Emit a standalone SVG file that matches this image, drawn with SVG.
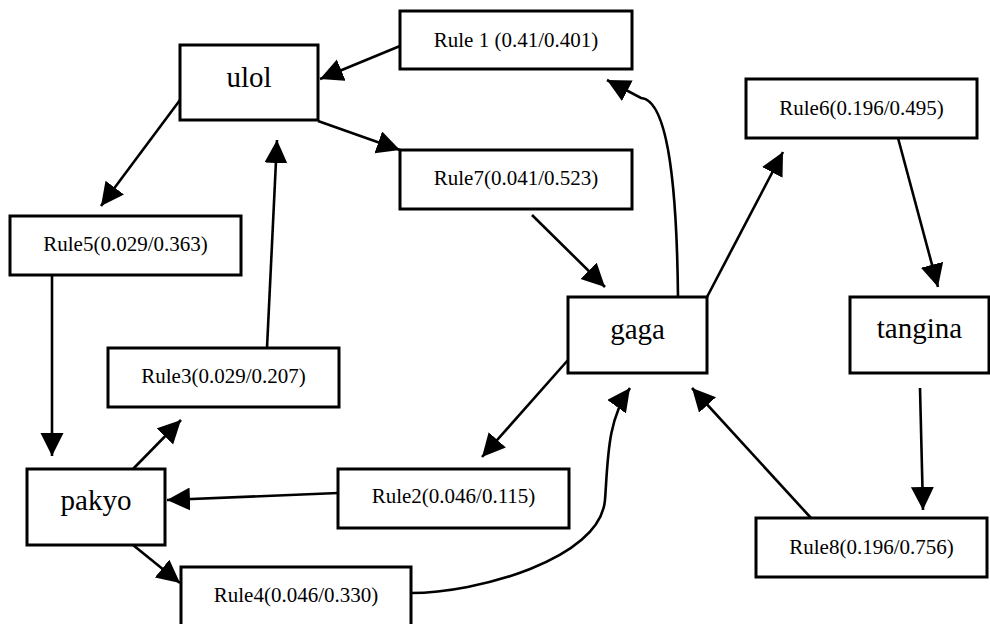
<svg xmlns="http://www.w3.org/2000/svg" width="990" height="624" viewBox="0 0 990 624">
<style>
.box{fill:#fff;stroke:#000;stroke-width:3}
.name{font-family:"Liberation Serif","Times New Roman",serif;font-size:29px;text-anchor:middle;fill:#000}
.rule{font-family:"Liberation Serif","Times New Roman",serif;font-size:21px;text-anchor:middle;fill:#000}
.edge{fill:none;stroke:#000;stroke-width:2.6;marker-end:url(#ah)}
</style>
<defs>
<marker id="ah" markerUnits="userSpaceOnUse" markerWidth="25" markerHeight="25" refX="23" refY="11.5" orient="auto">
<path d="M0,0 L23,11.5 L0,23 z" fill="#000"/>
</marker>
</defs>
<rect width="990" height="624" fill="#fff"/>
<g id="connectors">
<path class="edge" d="M400,46 L320,79"/>
<path class="edge" d="M318,121 L400,150"/>
<path class="edge" d="M180,100 L101,206"/>
<path class="edge" d="M52,275 L52,456"/>
<path class="edge" d="M133,469 L181,420"/>
<path class="edge" d="M267,348 L277,140"/>
<path class="edge" d="M338,493 L167,500"/>
<path class="edge" d="M133,545 L180,583"/>
<path class="edge" d="M411,593 C475,593 600,560 605,500 C608,460 607,420 630,388"/>
<path class="edge" d="M568,360 L482,457"/>
<path class="edge" d="M532,215 L605,287"/>
<path class="edge" d="M678,297 C677,200 670,100 641,98 L607,80"/>
<path class="edge" d="M707,297 L783,152"/>
<path class="edge" d="M898,138 L938,287"/>
<path class="edge" d="M920,388 L923,510"/>
<path class="edge" d="M811,518 L692,388"/>
</g>
<g id="ulol"><rect class="box" x="180" y="45" width="138" height="75"/><text class="name" x="249" y="87">ulol</text></g>
<g id="pakyo"><rect class="box" x="27" y="469" width="138" height="76"/><text class="name" x="96" y="510">pakyo</text></g>
<g id="gaga"><rect class="box" x="568" y="297" width="139" height="76"/><text class="name" x="637.5" y="339">gaga</text></g>
<g id="tangina"><rect class="box" x="850" y="297" width="139" height="76"/><text class="name" x="919.5" y="338">tangina</text></g>
<g id="rule1"><rect class="box" x="400" y="11" width="232" height="58"/><text class="rule" x="516" y="47">Rule 1 (0.41/0.401)</text></g>
<g id="rule7"><rect class="box" x="400" y="150" width="232" height="59"/><text class="rule" x="516" y="185">Rule7(0.041/0.523)</text></g>
<g id="rule5"><rect class="box" x="10" y="216" width="231" height="59"/><text class="rule" x="125.5" y="251">Rule5(0.029/0.363)</text></g>
<g id="rule3"><rect class="box" x="108" y="348" width="231" height="59"/><text class="rule" x="223.5" y="383">Rule3(0.029/0.207)</text></g>
<g id="rule2"><rect class="box" x="338" y="469" width="231" height="59"/><text class="rule" x="453.5" y="503">Rule2(0.046/0.115)</text></g>
<g id="rule4"><rect class="box" x="181" y="567" width="230" height="60"/><text class="rule" x="296" y="602">Rule4(0.046/0.330)</text></g>
<g id="rule6"><rect class="box" x="746" y="79" width="231" height="59"/><text class="rule" x="861.5" y="115">Rule6(0.196/0.495)</text></g>
<g id="rule8"><rect class="box" x="756" y="518" width="231" height="59"/><text class="rule" x="871.5" y="554">Rule8(0.196/0.756)</text></g>
</svg>
